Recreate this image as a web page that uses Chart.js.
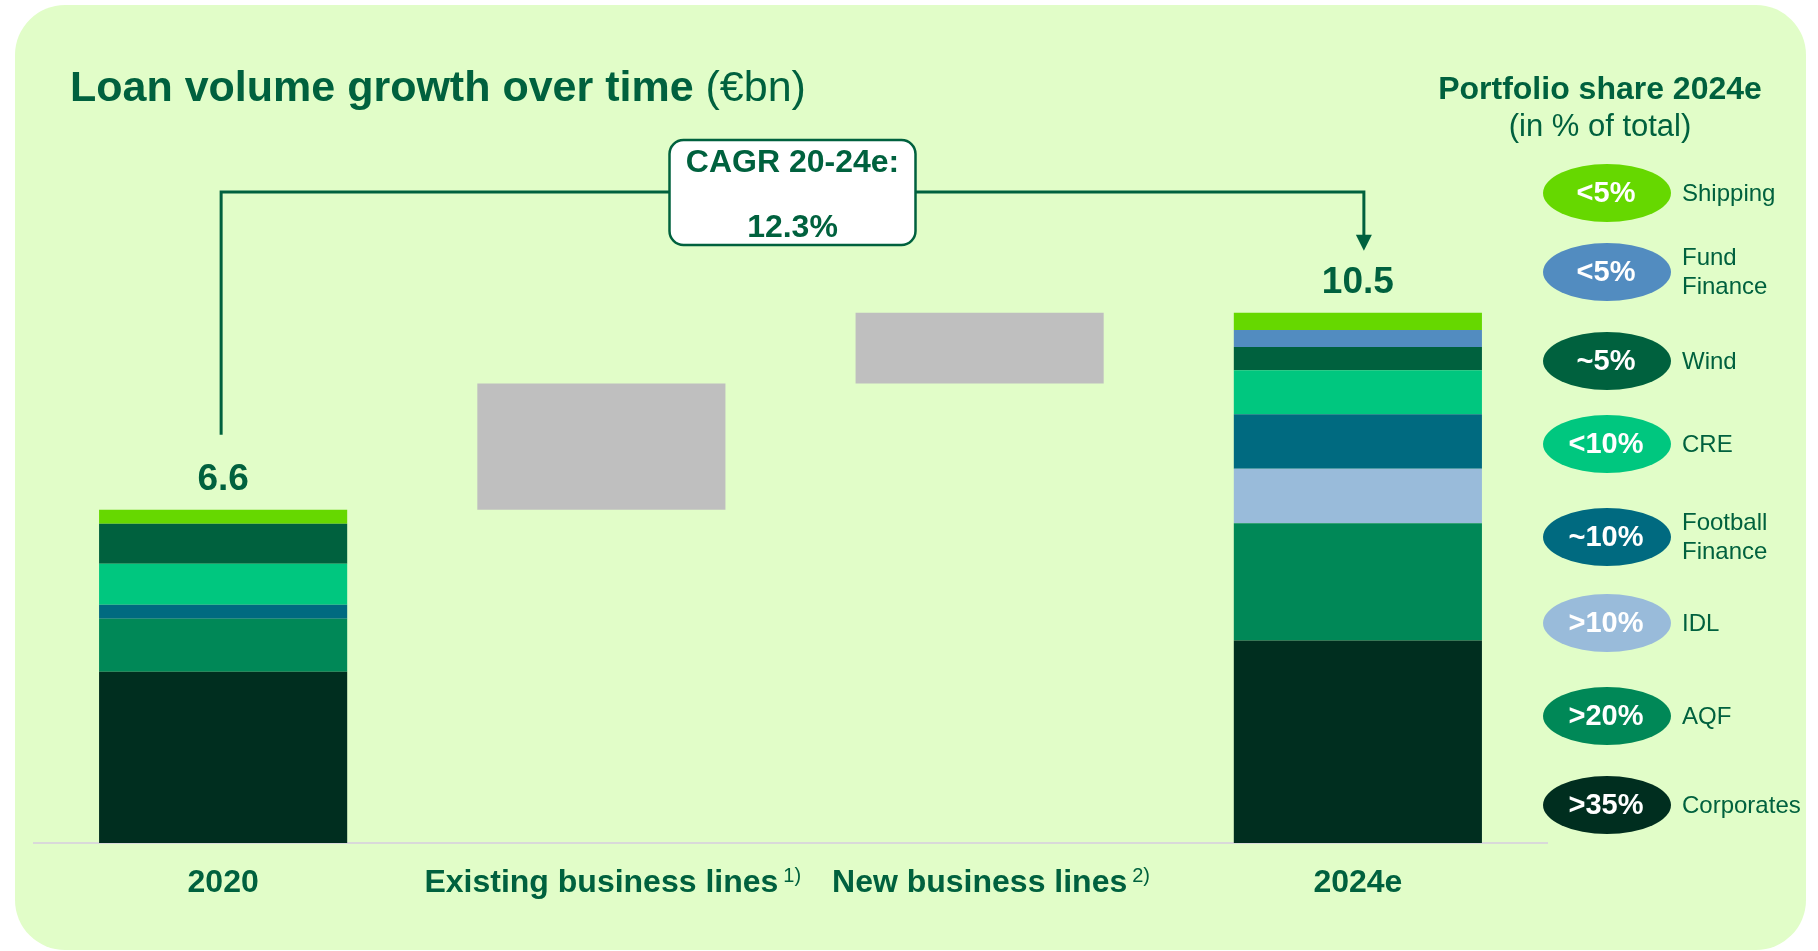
<!DOCTYPE html>
<html>
<head>
<meta charset="utf-8">
<script src="https://cdn.jsdelivr.net/npm/chart.js@4.4.1/dist/chart.umd.min.js"></script>
<style>
  body { margin: 0; background: #fff; overflow: hidden; }
  #panel { position: absolute; left: 15px; top: 5px; width: 1791px; height: 945px; border-radius: 50px; background: #E1FDC8; }
  #loanChart { position: absolute; left: 0; top: 0; }
</style>
</head>
<body>
<div id="panel"></div>
<canvas id="loanChart" width="1818" height="951"></canvas>
<script>
const categories = ['2020', 'Existing business lines', 'New business lines', '2024e'];
const footnotes = ['', '1)', '2)', ''];
const totals = [6.6, null, null, 10.5];
const growth = [null, 2.5, 1.4, null];

// stacked segments, bottom to top
const corporates = [3.39, null, null, 4.01];
const aqf = [1.05, null, null, 2.32];
const idl = [0, null, null, 1.08];
const footballFinance = [0.28, null, null, 1.08];
const cre = [0.81, null, null, 0.87];
const wind = [0.79, null, null, 0.46];
const fundFinance = [0, null, null, 0.34];
const shipping = [0.28, null, null, 0.34];

const seriesNames = ['Corporates', 'AQF', 'IDL', 'Football Finance', 'CRE', 'Wind', 'Fund Finance', 'Shipping'];
const seriesValues = [corporates, aqf, idl, footballFinance, cre, wind, fundFinance, shipping];
const shareLabels = ['>35%', '>20%', '>10%', '~10%', '<10%', '~5%', '<5%', '<5%'];
const seriesColors = ['#002E1F', '#008857', '#99BBDA', '#006A80', '#00C77F', '#00613E', '#528CC0', '#66D800'];

const ink = '#00613E';
const family = '"Liberation Sans", Arial, sans-serif';
const legendRowY = [193, 272, 361, 444, 537, 623, 716, 805]; // legend rows, top to bottom

// floating ranges for the growth steps
let running = totals[0];
const growthRanges = growth.map(g => (g == null ? null : [running, (running = Math.round((running + g) * 10) / 10)]));

const datasets = seriesValues.map((vals, i) => ({
  label: seriesNames[i],
  data: vals,
  backgroundColor: seriesColors[i],
  borderWidth: 0
}));
datasets.push({ label: 'Growth', data: growthRanges, backgroundColor: '#BFBFBF', borderWidth: 0 });

const overlay = {
  id: 'overlay',
  afterDraw(chart) {
    const { ctx } = chart;
    const x = chart.scales.x;
    const y = chart.scales.y;
    ctx.save();
    ctx.fillStyle = ink;
    ctx.textBaseline = 'alphabetic';

    // title
    ctx.textAlign = 'left';
    ctx.font = `bold 43px ${family}`;
    const main = 'Loan volume growth over time';
    ctx.fillText(main, 70, 101);
    const mw = ctx.measureText(main).width;
    ctx.font = `43px ${family}`;
    ctx.fillText(' (€bn)', 70 + mw, 101);

    // legend heading
    ctx.textAlign = 'center';
    ctx.font = `bold 32px ${family}`;
    ctx.fillText('Portfolio share 2024e', 1600, 99);
    ctx.font = `31px ${family}`;
    ctx.fillText('(in % of total)', 1600, 136);

    // totals above bars
    ctx.font = `bold 37px ${family}`;
    totals.forEach((t, i) => {
      if (t == null) return;
      ctx.fillText(t.toFixed(1), x.getPixelForValue(i), y.getPixelForValue(t) - 20);
    });

    // footnote markers after the tick labels
    footnotes.forEach((f, i) => {
      if (!f) return;
      ctx.font = `bold 32px ${family}`;
      const lw = ctx.measureText(categories[i]).width;
      ctx.font = `20px ${family}`;
      ctx.textAlign = 'left';
      ctx.fillText(f, x.getPixelForValue(i) + lw / 2 + 5, 882);
    });

    // CAGR connector
    const x0 = x.getPixelForValue(0) - 2;
    const x3 = x.getPixelForValue(3) + 6;
    const top0 = y.getPixelForValue(totals[0]);
    const top3 = y.getPixelForValue(totals[3]);
    const lineY = 192;
    const tip = top3 - 62;
    ctx.strokeStyle = ink;
    ctx.lineWidth = 3;
    ctx.beginPath();
    ctx.moveTo(x0, top0 - 75);
    ctx.lineTo(x0, lineY);
    ctx.lineTo(x3, lineY);
    ctx.lineTo(x3, tip - 12);
    ctx.stroke();
    ctx.beginPath();
    ctx.moveTo(x3 - 8, tip - 16);
    ctx.lineTo(x3 + 8, tip - 16);
    ctx.lineTo(x3, tip);
    ctx.closePath();
    ctx.fill();

    const cx = (x0 + x3) / 2;
    ctx.beginPath();
    ctx.roundRect(cx - 123, 140, 246, 105, 14);
    ctx.fillStyle = '#FFFFFF';
    ctx.fill();
    ctx.lineWidth = 2.5;
    ctx.stroke();
    const cagr = (Math.pow(totals[3] / totals[0], 1 / 4) - 1) * 100;
    ctx.fillStyle = ink;
    ctx.textAlign = 'center';
    ctx.font = `bold 32px ${family}`;
    ctx.fillText('CAGR 20-24e:', cx, 172);
    ctx.fillText(cagr.toFixed(1) + '%', cx, 237);

    // portfolio share legend (top row = top segment)
    ctx.textBaseline = 'middle';
    for (let k = 0; k < seriesNames.length; k++) {
      const s = seriesNames.length - 1 - k;
      const cy = legendRowY[k];
      ctx.beginPath();
      ctx.ellipse(1607, cy, 64, 29, 0, 0, Math.PI * 2);
      ctx.fillStyle = seriesColors[s];
      ctx.fill();
      ctx.fillStyle = '#FFFFFF';
      ctx.textAlign = 'center';
      ctx.font = `bold 29px ${family}`;
      ctx.fillText(shareLabels[s], 1606, cy + 1);
      ctx.fillStyle = ink;
      ctx.textAlign = 'left';
      ctx.font = `24px ${family}`;
      const lines = seriesNames[s].split(' ');
      lines.forEach((ln, j) => {
        ctx.fillText(ln, 1682, cy + (j - (lines.length - 1) / 2) * 29 + 1);
      });
    }
    ctx.restore();
  }
};

new Chart(document.getElementById('loanChart'), {
  type: 'bar',
  data: { labels: categories, datasets },
  options: {
    responsive: false,
    animation: false,
    barPercentage: 0.656,
    categoryPercentage: 1,
    layout: { padding: { left: 34, right: 271, top: 237, bottom: 38 } },
    plugins: { legend: { display: false }, tooltip: { enabled: false } },
    scales: {
      x: {
        stacked: true,
        grid: { display: false, drawTicks: false },
        border: { display: true, color: '#D9D9D9', width: 2 },
        ticks: {
          color: ink,
          font: { family, size: 32, weight: 'bold' },
          padding: 21,
          maxRotation: 0,
          autoSkip: false
        },
        afterFit: (scale) => { scale.height = 70; }
      },
      y: { stacked: true, display: false, min: 0, max: 12 }
    }
  },
  plugins: [overlay]
});
</script>
</body>
</html>
